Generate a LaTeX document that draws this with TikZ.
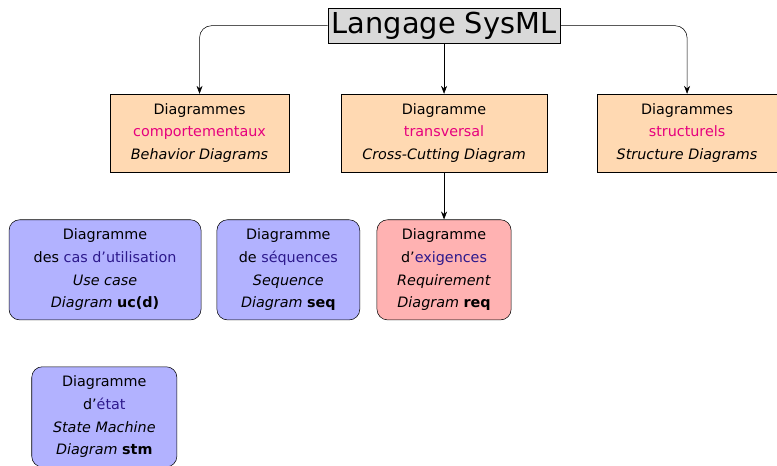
\documentclass[tikz,border=0pt]{standalone}
\usepackage{fontspec}
\setmainfont{DejaVu Sans}
\usetikzlibrary{arrows.meta}
\definecolor{rose}{RGB}{230,0,126}
\definecolor{indigo}{RGB}{45,25,140}

\begin{document}
\begin{tikzpicture}[thin,
  famille/.style={draw, fill=orange!30, align=center, minimum height=2.06cm, inner xsep=8pt, font=\fontsize{10.8}{17}\selectfont},
  diag/.style={draw, fill=blue!30, rounded corners=8pt, align=center, minimum height=2.65cm, inner xsep=8pt, font=\fontsize{10.8}{17}\selectfont},
  lien/.style={-{Stealth[length=6pt,width=4.5pt]}, rounded corners=9pt}]
\useasboundingbox (0,0) rectangle (20.56,12.33);
\node[draw, fill=gray!30, font=\fontsize{21.7}{26}\selectfont, inner xsep=3pt, inner ysep=3pt] (sysml) at (11.75,11.65) {Langage SysML};
\node[famille, minimum width=4.74cm] (behav) at (5.28,8.81) {Diagrammes\\\textcolor{rose}{comportementaux}\\\textit{Behavior Diagrams}};
\node[famille, minimum width=5.45cm] (trans) at (11.75,8.81) {Diagramme\\\textcolor{rose}{transversal}\\\textit{Cross-Cutting Diagram}};
\node[famille, minimum width=4.76cm] (struct) at (18.18,8.81) {Diagrammes\\\textcolor{rose}{structurels}\\\textit{Structure Diagrams}};
\node[diag, minimum width=5.08cm] (uc) at (2.78,5.19) {Diagramme\\des \textcolor{indigo}{cas d’utilisation}\\\textit{Use case}\\\textit{Diagram} \textbf{uc(d)}};
\node[diag, minimum width=3.78cm] (seq) at (7.63,5.19) {Diagramme\\de \textcolor{indigo}{séquences}\\\textit{Sequence}\\\textit{Diagram} \textbf{seq}};
\node[diag, fill=red!30, minimum width=3.55cm] (req) at (11.75,5.19) {Diagramme\\d’\textcolor{indigo}{exigences}\\\textit{Requirement}\\\textit{Diagram} \textbf{req}};
\node[diag, minimum width=3.84cm] (stm) at (2.76,1.30) {Diagramme\\d’\textcolor{indigo}{état}\\\textit{State Machine}\\\textit{Diagram} \textbf{stm}};
\draw[lien] (sysml.west) -| (behav.north);
\draw[lien] (sysml.south) -- (trans.north);
\draw[lien] (sysml.east) -| (struct.north);
\draw[lien] (trans.south) -- (req.north);
\end{tikzpicture}
\end{document}
